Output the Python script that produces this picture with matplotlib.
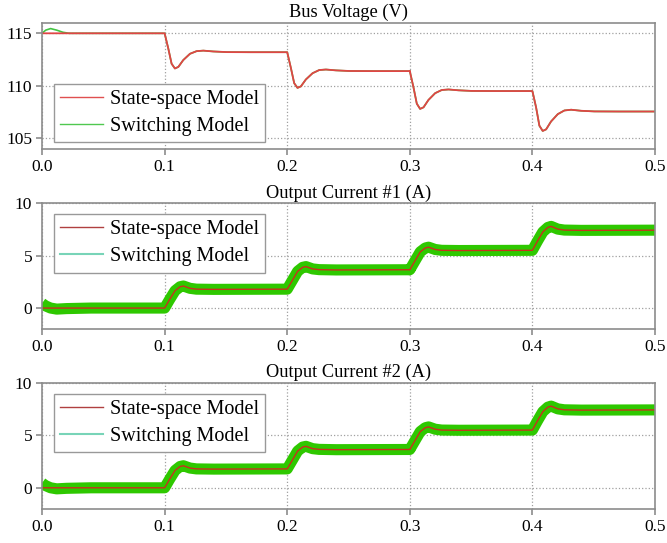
import numpy as np
import matplotlib
matplotlib.use('Agg')
import matplotlib.pyplot as plt
from matplotlib.lines import Line2D

plt.rcParams['font.family'] = ['Liberation Serif', 'DejaVu Serif']

# Step instants of the load changes
steps = [0.1, 0.2, 0.3, 0.4]

# Bus voltage: times after each step and the values
dt_v = [0, 0.003, 0.0057, 0.0084, 0.0112, 0.0152, 0.0207, 0.0261, 0.0316, 0.0397, 0.0506, 0.07, 0.1]
v_steps = [
    [115.0, 113.55, 112.1, 111.65, 111.8, 112.45, 113.05, 113.3, 113.35, 113.27, 113.21, 113.2, 113.2],
    [113.2, 111.7, 110.25, 109.8, 109.95, 110.6, 111.2, 111.5, 111.55, 111.47, 111.41, 111.4, 111.4],
    [111.4, 109.85, 108.3, 107.8, 107.95, 108.65, 109.3, 109.6, 109.65, 109.57, 109.51, 109.5, 109.5],
    [109.5, 107.95, 106.2, 105.7, 105.85, 106.6, 107.3, 107.65, 107.72, 107.62, 107.56, 107.55, 107.55],
]
# Start-up bump of the switching model
t_v_start = [0.0, 0.003, 0.007, 0.012, 0.017, 0.022]
v_sw_start = [115.0, 115.3, 115.45, 115.3, 115.1, 115.0]

# Output currents (#1 and #2 look the same)
dt_i = [0, 0.004, 0.0085, 0.0126, 0.0153, 0.0207, 0.026, 0.04, 0.1]
i_steps = [
    [0.0, 0.8, 1.65, 2.03, 2.1, 1.88, 1.8, 1.78, 1.8],
    [1.8, 2.6, 3.5, 3.88, 3.95, 3.73, 3.66, 3.63, 3.65],
    [3.65, 4.45, 5.35, 5.72, 5.8, 5.58, 5.5, 5.48, 5.5],
    [5.5, 6.35, 7.25, 7.68, 7.78, 7.52, 7.43, 7.4, 7.42],
]
t_i_start = [0.0, 0.003, 0.007, 0.012, 0.02, 0.04]
i_sw_start = [0.45, 0.2, 0.0, -0.1, -0.05, 0.0]

titles = ['Bus Voltage (V)', 'Output Current #1 (A)', 'Output Current #2 (A)']
xticks = [0.0, 0.1, 0.2, 0.3, 0.4, 0.5]


def build(start_t, start_v, dt, seg_vals):
    t = list(start_t)
    v = list(start_v)
    for s, vals in zip(steps, seg_vals):
        t += [s + d for d in dt]
        v += vals
    return np.array(t), np.array(v)


t_vss, v_ss = build([0.0], [115.0], dt_v, v_steps)
t_vsw, v_sw = build(t_v_start, v_sw_start, dt_v, v_steps)
t_iss, i_ss = build([0.0], [0.0], dt_i, i_steps)
t_isw, i_sw = build(t_i_start, i_sw_start, dt_i, i_steps)

fig = plt.figure(figsize=(6.67, 5.43), dpi=100)
left, width = 0.063, 0.919
bottoms = [0.726, 0.394, 0.063]
height = 0.232
axes = [fig.add_axes([left, b, width, height]) for b in bottoms]

spine_col = '#8c8c8c'
for k, ax in enumerate(axes):
    if k == 0:
        ax.plot(t_vsw, v_sw, color='#44c444', lw=1.2)
        ax.plot(t_vss, v_ss, color='#e04545', lw=1.3)
        ax.set_ylim(104, 116)
        ax.set_yticks([105, 110, 115])
        handles = [Line2D([], [], color='#e05050', lw=1.0),
                   Line2D([], [], color='#50c850', lw=1.0)]
        loc, anchor = 'lower left', (0.02, 0.055)
    else:
        ax.plot(t_isw, i_sw, color='#2ec800', lw=8.0, solid_capstyle='butt')
        ax.plot(t_iss, i_ss, color='#c8301e', lw=1.0)
        ax.set_ylim(-2, 10)
        ax.set_yticks([0, 5, 10])
        handles = [Line2D([], [], color='#b04040', lw=1.0),
                   Line2D([], [], color='#78d4b8', lw=1.5)]
        loc, anchor = 'upper left', (0.02, 0.912)
    ax.set_xlim(0, 0.5)
    ax.set_xticks(xticks)
    ax.set_xticklabels(['%.1f' % x for x in xticks])
    ax.grid(True, linestyle=':', color='#a0a0a0', lw=0.9)
    ax.set_axisbelow(True)
    for sp in ax.spines.values():
        sp.set_color(spine_col)
        sp.set_linewidth(1.2)
    ax.tick_params(direction='out', length=4, width=1.2, color=spine_col,
                   labelsize=12.5, pad=3)
    ax.set_title(titles[k], fontsize=13.2, pad=4)
    leg = ax.legend(handles, ['State-space Model', 'Switching Model'], loc=loc,
                    bbox_to_anchor=anchor, borderaxespad=0,
                    fontsize=14.5, frameon=True, fancybox=False, framealpha=1,
                    edgecolor='#999999', handlelength=2.1, handletextpad=0.35,
                    labelspacing=0.4, borderpad=0.3)
    leg.get_frame().set_linewidth(1.0)

plt.savefig('out.png', dpi=100)
